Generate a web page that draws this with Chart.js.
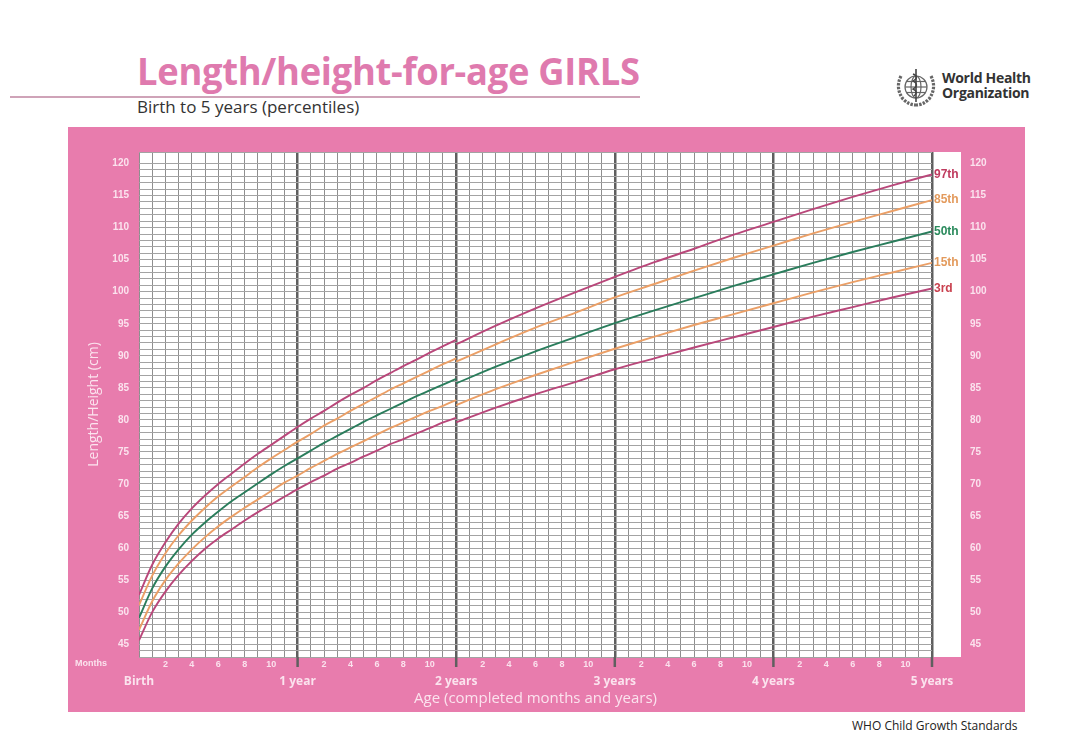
<!DOCTYPE html>
<html>
<head>
<meta charset="utf-8">
<script src="https://cdn.jsdelivr.net/npm/chart.js@4.4.1/dist/chart.umd.min.js"></script>
<style>
  body { margin: 0; background: #fff; width: 1080px; height: 754px; position: relative; overflow: hidden; font-family: "Open Sans", sans-serif; }
  #title { position: absolute; left: 137px; top: 44px; font-size: 38px; font-weight: bold; color: #df7aae; white-space: nowrap; transform-origin: 0 0; letter-spacing: -0.3px; }
  #rule { position: absolute; left: 10px; top: 96px; width: 630px; height: 2px; background: #cfa3b8; }
  #subtitle { position: absolute; left: 137px; top: 95px; font-size: 17px; color: #333; white-space: nowrap; }
  #logo { position: absolute; left: 893px; top: 66px; }
  #who { position: absolute; left: 942px; top: 70px; font-size: 14px; font-weight: bold; color: #333; line-height: 15px; letter-spacing: -0.3px; }
  #panel { position: absolute; left: 68px; top: 127px; width: 957px; height: 585px; background: #e87cad; }
  #footer { position: absolute; left: 852px; top: 717px; font-size: 12px; color: #222; white-space: nowrap; }
</style>
</head>
<body>
<div id="title">Length/height-for-age GIRLS</div>
<div id="rule"></div>
<div id="subtitle">Birth to 5 years (percentiles)</div>
<svg id="logo" width="46" height="44" viewBox="0 0 46 44">
  <g fill="none" stroke="#666" stroke-width="1.2">
    <circle cx="23" cy="21" r="11"/>
    <ellipse cx="23" cy="21" rx="5" ry="11"/>
    <line x1="12" y1="21" x2="34" y2="21"/>
    <line x1="13.5" y1="15.5" x2="32.5" y2="15.5"/>
    <line x1="13.5" y1="26.5" x2="32.5" y2="26.5"/>
    <path d="M8 10 Q2 22 10 33 Q16 39 23 39" stroke-width="3.2" stroke-dasharray="2.5 1.2"/>
    <path d="M38 10 Q44 22 36 33 Q30 39 23 39" stroke-width="3.2" stroke-dasharray="2.5 1.2"/>
    <line x1="23" y1="3" x2="23" y2="36" stroke="#444" stroke-width="1.6"/>
    <path d="M20 8 Q27 11 20 15 Q27 19 20 23 Q26 26 21 30" stroke="#444" stroke-width="1.4"/>
  </g>
</svg>
<div id="who">World Health<br>Organization</div>
<div id="panel"><canvas id="chart" width="957" height="585"></canvas></div>
<div id="footer">WHO Child Growth Standards</div>

<script>
// age in completed months
const lengthMonths = [0, 1, 2, 3, 4, 5, 6, 7, 8, 9, 10, 11, 12, 13, 14, 15, 16, 17, 18, 19, 20, 21, 22, 23, 24];
const heightMonths = [24, 27, 30, 33, 36, 39, 42, 45, 48, 51, 54, 57, 60];

// length (lying) birth to 2 years, cm
const p3Length  = [45.6, 50.0, 53.2, 55.8, 58.0, 59.9, 61.5, 62.9, 64.3, 65.6, 66.8, 68.0, 69.2, 70.3, 71.3, 72.4, 73.3, 74.3, 75.2, 76.2, 77.0, 77.9, 78.7, 79.6, 80.3];
const p15Length = [47.2, 51.7, 55.0, 57.6, 59.8, 61.7, 63.4, 64.9, 66.3, 67.6, 68.9, 70.2, 71.3, 72.5, 73.6, 74.7, 75.7, 76.7, 77.7, 78.7, 79.6, 80.5, 81.4, 82.2, 83.1];
const p50Length = [49.1, 53.7, 57.1, 59.8, 62.1, 64.0, 65.7, 67.3, 68.7, 70.1, 71.5, 72.8, 74.0, 75.2, 76.4, 77.5, 78.6, 79.7, 80.7, 81.7, 82.7, 83.7, 84.6, 85.5, 86.4];
const p85Length = [51.1, 55.7, 59.2, 62.0, 64.3, 66.3, 68.1, 69.6, 71.1, 72.6, 74.0, 75.3, 76.6, 77.8, 79.1, 80.2, 81.4, 82.5, 83.6, 84.7, 85.7, 86.7, 87.7, 88.7, 89.6];
const p97Length = [52.7, 57.4, 60.9, 63.8, 66.2, 68.2, 70.0, 71.6, 73.2, 74.7, 76.1, 77.5, 78.9, 80.2, 81.4, 82.7, 83.9, 85.0, 86.2, 87.3, 88.4, 89.4, 90.5, 91.5, 92.5];

// height (standing) 2 to 5 years, cm
const p3Height  = [79.6, 81.9, 84.0, 85.9, 87.9, 89.6, 91.3, 92.9, 94.5, 96.1, 97.6, 99.1, 100.5];
const p15Height = [82.3, 84.8, 87.0, 89.1, 91.1, 93.0, 94.8, 96.5, 98.2, 99.9, 101.5, 103.0, 104.5];
const p50Height = [85.7, 88.3, 90.7, 92.9, 95.1, 97.1, 99.0, 100.9, 102.7, 104.5, 106.2, 107.8, 109.4];
const p85Height = [89.1, 91.8, 94.4, 96.7, 99.1, 101.2, 103.3, 105.3, 107.2, 109.1, 110.9, 112.6, 114.3];
const p97Height = [91.8, 94.7, 97.4, 99.9, 102.3, 104.6, 106.7, 108.9, 110.9, 112.9, 114.8, 116.6, 118.3];

const percentileNames = ['97th', '85th', '50th', '15th', '3rd'];
const lineColors  = ['#b9477a', '#eb9f66', '#2a7d5c', '#eb9f66', '#b9477a'];
const labelColors = ['#bf3a5e', '#e39a5c', '#2a8a5c', '#e39a5c', '#c9404e'];

const yTicks = [45, 50, 55, 60, 65, 70, 75, 80, 85, 90, 95, 100, 105, 110, 115, 120];
const yearLabels = ['Birth', '1 year', '2 years', '3 years', '4 years', '5 years'];

const tickColor = '#fbe3ee';

function series(lenVals, htVals) {
  const pts = lengthMonths.map((m, i) => ({ x: m, y: lenVals[i] }));
  pts.push({ x: 24, y: null }); // length -> height break at 2 years
  heightMonths.forEach((m, i) => pts.push({ x: m, y: htVals[i] }));
  return pts;
}

const allLength = [p97Length, p85Length, p50Length, p15Length, p3Length];
const allHeight = [p97Height, p85Height, p50Height, p15Height, p3Height];

const datasets = percentileNames.map((name, i) => ({
  label: name,
  data: series(allLength[i], allHeight[i]),
  borderColor: lineColors[i],
  borderWidth: 1.9,
  pointRadius: 0,
  fill: false,
  spanGaps: false,
  cubicInterpolationMode: 'monotone'
}));

function yLabel(v) {
  return yTicks.includes(v) ? String(v) : '';
}

// fixed axis sizes so the plotting paper sits where it does on the printed chart
function fixSize(w, h) {
  return s => {
    if (w !== null) s.width = w;
    if (h !== null) s.height = h;
    s.paddingTop = 0;
    s.paddingBottom = 0;
    s.paddingLeft = 0;
    s.paddingRight = 0;
  };
}

// white plotting paper, incl. the strip right of 5 years
const paperPlugin = {
  id: 'paper',
  beforeDraw(chart) {
    const { ctx, chartArea } = chart;
    ctx.save();
    ctx.fillStyle = '#fff';
    ctx.fillRect(chartArea.left, chartArea.top, chartArea.right - chartArea.left + 29, chartArea.bottom - chartArea.top);
    ctx.restore();
  }
};

// percentile names at the line ends, year line stubs, "Months"
const extrasPlugin = {
  id: 'extras',
  afterDraw(chart) {
    const { ctx, chartArea, scales } = chart;
    ctx.save();
    ctx.strokeStyle = '#5f5f5f';
    ctx.lineWidth = 2.5;
    for (let m = 12; m <= 60; m += 12) {
      const x = scales.x.getPixelForValue(m);
      ctx.beginPath();
      ctx.moveTo(x, chartArea.bottom);
      ctx.lineTo(x, chartArea.bottom + 10);
      ctx.stroke();
    }
    ctx.font = 'bold 12px "Liberation Sans", Arial, sans-serif';
    ctx.textBaseline = 'middle';
    ctx.textAlign = 'left';
    percentileNames.forEach((name, i) => {
      const vals = allHeight[i];
      const y = scales.y.getPixelForValue(vals[vals.length - 1]);
      ctx.fillStyle = labelColors[i];
      ctx.fillText(name, chartArea.right + 2, y);
    });
    ctx.font = 'bold 9px "Liberation Sans", Arial, sans-serif';
    ctx.fillStyle = tickColor;
    ctx.fillText('Months', 7, chartArea.bottom + 7);
    ctx.restore();
  }
};

new Chart(document.getElementById('chart'), {
  type: 'line',
  data: { datasets },
  plugins: [paperPlugin, extrasPlugin],
  options: {
    responsive: false,
    animation: false,
    layout: { padding: { top: 25, left: 0, right: 0, bottom: 0 } },
    plugins: { legend: { display: false }, tooltip: { enabled: false } },
    scales: {
      x: {
        type: 'linear', position: 'bottom', min: 0, max: 60, weight: 0,
        afterFit: fixSize(null, 14),
        border: { display: false },
        grid: {
          drawTicks: false,
          color: c => (c.tick.value % 12 === 0 && c.tick.value > 0) ? '#5f5f5f' : '#8e8e8e',
          lineWidth: c => (c.tick.value % 12 === 0 && c.tick.value > 0) ? 2.5 : 1
        },
        ticks: {
          stepSize: 1, autoSkip: false, maxRotation: 0, padding: 2,
          color: tickColor,
          font: { family: '"Liberation Sans", Arial, sans-serif', size: 9, weight: 'bold' },
          callback: v => (v % 12 !== 0 && v % 2 === 0) ? String(v % 12) : ''
        }
      },
      x2: {
        type: 'linear', position: 'bottom', min: 0, max: 60, weight: 1,
        afterFit: fixSize(null, 41),
        border: { display: false },
        grid: { display: false, drawTicks: false },
        ticks: {
          stepSize: 12, autoSkip: false, maxRotation: 0, padding: 3,
          color: tickColor,
          font: { family: '"Open Sans", sans-serif', size: 12, weight: 'bold' },
          callback: v => yearLabels[v / 12] || ''
        },
        title: {
          display: true, text: 'Age (completed months and years)',
          color: tickColor, padding: { top: 0, bottom: 4 },
          font: { family: '"Open Sans", sans-serif', size: 15 }
        }
      },
      y: {
        type: 'linear', position: 'left', min: 43, max: 121.8,
        afterFit: fixSize(71, null),
        border: { display: false },
        grid: { drawTicks: false, color: '#a3a3a3', lineWidth: 1 },
        ticks: {
          stepSize: 1, autoSkip: false, padding: 10,
          color: tickColor,
          font: { family: '"Liberation Sans", Arial, sans-serif', size: 10, weight: 'bold' },
          callback: yLabel
        },
        title: {
          display: true, text: 'Length/Height (cm)',
          color: tickColor, padding: { top: 18, bottom: 0 },
          font: { family: '"Open Sans", sans-serif', size: 14 }
        }
      },
      yRight: {
        type: 'linear', position: 'right', min: 43, max: 121.8,
        afterFit: fixSize(93, null),
        border: { display: false },
        grid: { display: false, drawTicks: false },
        ticks: {
          stepSize: 1, autoSkip: false, padding: 38,
          color: tickColor,
          font: { family: '"Liberation Sans", Arial, sans-serif', size: 10, weight: 'bold' },
          callback: yLabel
        }
      }
    }
  }
});

// fit the bold title to its printed width
const t = document.getElementById('title');
t.style.transform = 'scaleX(' + (503 / t.offsetWidth) + ')';
</script>
</body>
</html>
